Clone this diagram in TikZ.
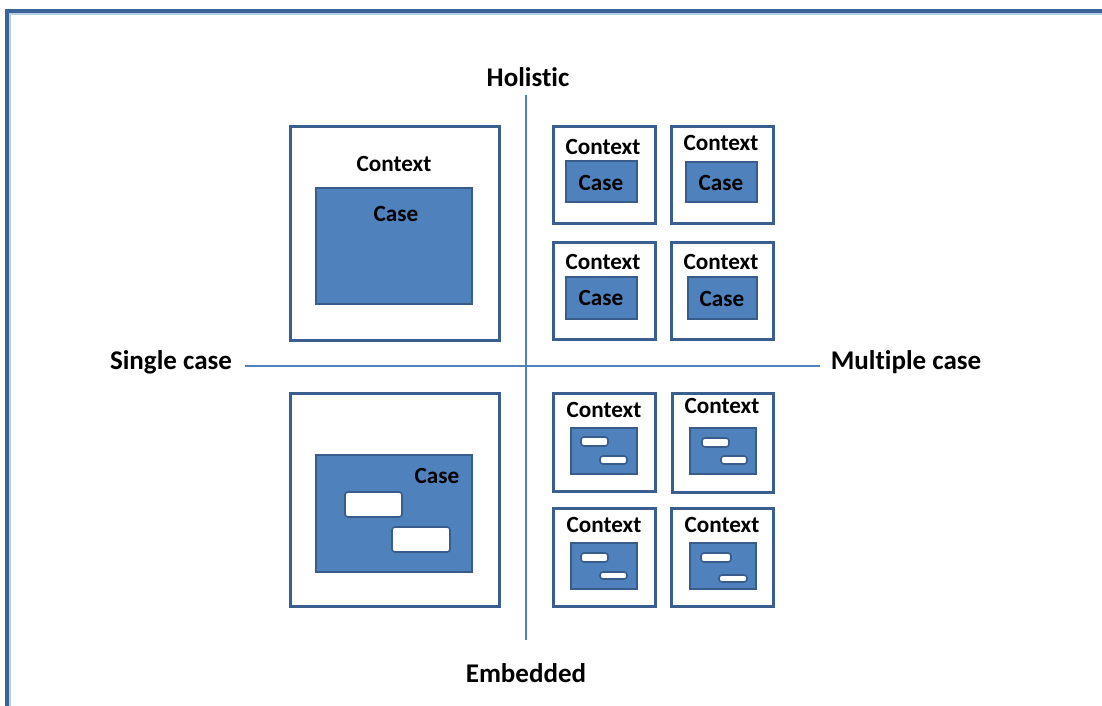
\documentclass[tikz,border=0pt]{standalone}
\usepackage{fontspec}
\setmainfont[Ligatures=NoCommon]{Carlito}
\definecolor{frameblue}{HTML}{3B6598}
\definecolor{shadowblue}{HTML}{B9CDE5}
\definecolor{boxblue}{HTML}{3A5F8F}
\definecolor{casefill}{HTML}{4F81BD}
\definecolor{caseline}{HTML}{385D8A}
\definecolor{axisblue}{HTML}{4F81BD}
\tikzset{
  x=0.5pt, y=-0.5pt,
  ctxbox/.style={draw=boxblue, line width=1.5pt, fill=white},
  casebox/.style={draw=caseline, line width=1pt, fill=casefill},
  unitbox/.style={draw=caseline, line width=0.8pt, fill=white, rounded corners=1.5pt},
  axisline/.style={draw=axisblue, line width=0.75pt},
  axlabel/.style={font=\bfseries\fontsize{13.5}{15}\selectfont, inner sep=0pt},
  ctxlabel/.style={font=\bfseries\fontsize{11.6}{13}\selectfont, inner sep=0pt},
  caselabel/.style={font=\bfseries\fontsize{11.6}{13}\selectfont, inner sep=0pt},
}
\begin{document}
\begin{tikzpicture}
\useasboundingbox (0,0) rectangle (1102,706);
% frame
\draw[shadowblue, line width=1pt] (10,706) -- (10,14) -- (1102,14);
\draw[frameblue, line width=1.7pt] (7,706) -- (7,11) -- (1102,11);
% axes
\coordinate (vtop) at (526,95);
\coordinate (vbot) at (526,640);
\coordinate (hleft) at (245,366);
\coordinate (hright) at (820,366);
\draw[axisline] (vtop) -- (vbot);
\draw[axisline] (hleft) -- (hright);
\node[axlabel] (holistic) at (528,77) {Holist\kern0pt ic};
\node[axlabel] (embedded) at (526,673) {Embedded};
\node[axlabel] (single) at (171,362) {Single case};
\node[axlabel] (multiple) at (906,362) {Multiple case};
% big holistic
\draw[ctxbox] (290,127) rectangle (499,340);
\draw[casebox] (316,188) rectangle (472,304);
\node[ctxlabel] (c0) at (394,164) {Context};
\node[caselabel] (k0) at (396,214) {Case};
% big embedded
\draw[ctxbox] (290,393) rectangle (499,606);
\draw[casebox] (316,455) rectangle (472,572);
\node[caselabel] (k1) at (437,476) {Case};
\draw[unitbox] (345,492) rectangle (402,517);
\draw[unitbox] (392,527) rectangle (450,552);
% small holistic
\draw[ctxbox] (553,127) rectangle (655,223);
\draw[casebox] (566,161) rectangle (637,202);
\node[ctxlabel] (c1) at (603,147) {Context};
\node[caselabel] (k2) at (601,183) {Case};
\draw[ctxbox] (671,127) rectangle (773,223);
\draw[casebox] (686,162) rectangle (757,202);
\node[ctxlabel] (c2) at (721,143) {Context};
\node[caselabel] (k3) at (721,183) {Case};
\draw[ctxbox] (553,242) rectangle (655,339);
\draw[casebox] (566,277) rectangle (637,319);
\node[ctxlabel] (c3) at (603,262) {Context};
\node[caselabel] (k4) at (601,298) {Case};
\draw[ctxbox] (671,242) rectangle (773,339);
\draw[casebox] (688,277) rectangle (757,319);
\node[ctxlabel] (c4) at (721,262) {Context};
\node[caselabel] (k5) at (722,299) {Case};
% small embedded
\draw[ctxbox] (553,393) rectangle (655,491);
\draw[casebox] (571,428) rectangle (637,474);
\draw[unitbox] (581,437) rectangle (608,446);
\draw[unitbox] (600,456) rectangle (627,464);
\node[ctxlabel] (c5) at (604,410) {Context};
\draw[ctxbox] (672,393) rectangle (773,492);
\draw[casebox] (690,428) rectangle (756,474);
\draw[unitbox] (702,438) rectangle (729,447);
\draw[unitbox] (721,456) rectangle (747,464);
\node[ctxlabel] (c6) at (722,406) {Context};
\draw[ctxbox] (553,508) rectangle (655,606);
\draw[casebox] (571,543) rectangle (637,589);
\draw[unitbox] (581,553) rectangle (608,562);
\draw[unitbox] (600,572) rectangle (627,579);
\node[ctxlabel] (c7) at (604,525) {Context};
\draw[ctxbox] (671,508) rectangle (773,606);
\draw[casebox] (690,543) rectangle (756,589);
\draw[unitbox] (701,553) rectangle (731,562);
\draw[unitbox] (719,575) rectangle (747,582);
\node[ctxlabel] (c8) at (722,525) {Context};
\end{tikzpicture}
\end{document}
